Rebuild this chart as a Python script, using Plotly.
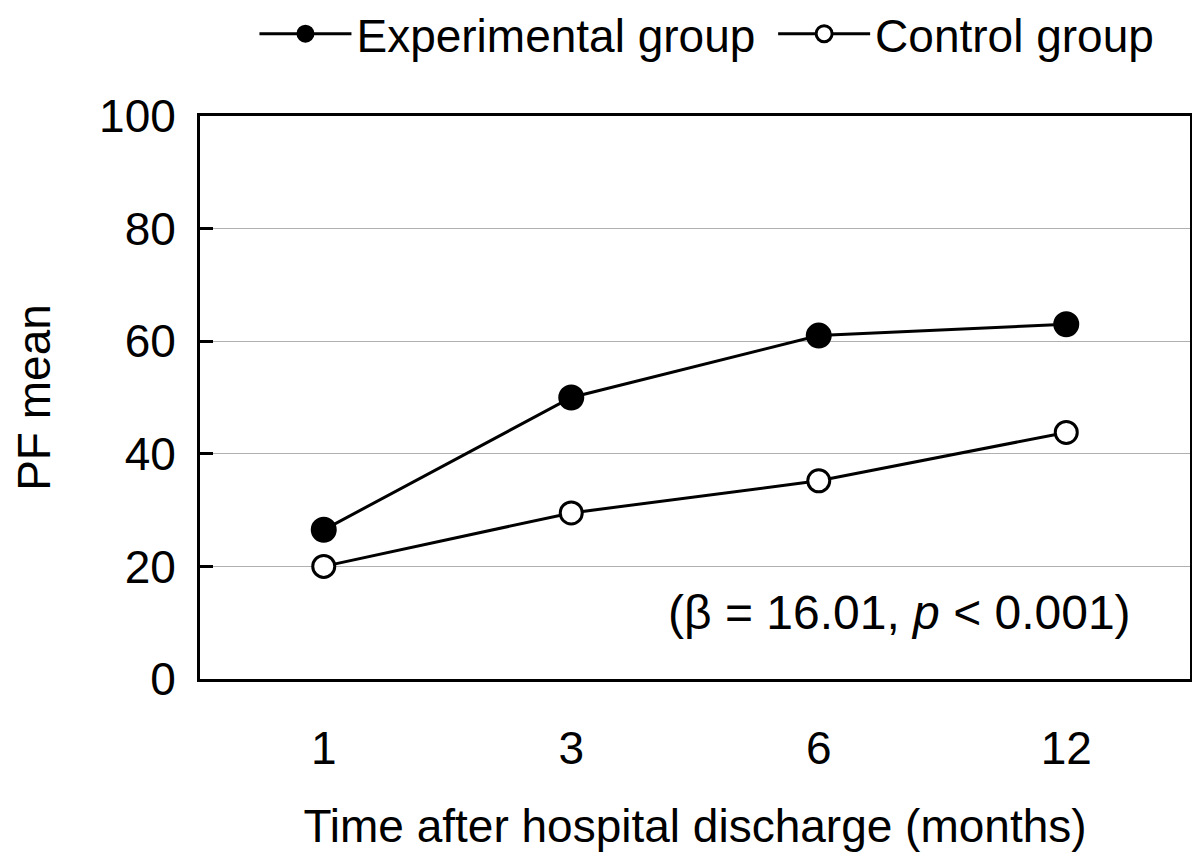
import plotly.graph_objects as go

months = ["1", "3", "6", "12"]
experimental = [26.5, 50.0, 61.0, 63.0]
control = [20.0, 29.5, 35.2, 43.8]
y_ticks = [0, 20, 40, 60, 80, 100]
series_names = ["Experimental group", "Control group"]
annotation_text = "(β = 16.01, <i>p</i> &lt; 0.001)"

FONT = "Liberation Sans, Arial, sans-serif"

fig = go.Figure()
fig.add_trace(go.Scatter(
    x=months, y=experimental, mode="lines+markers",
    name=series_names[0] + "\u00a0",
    line=dict(color="black", width=3),
    marker=dict(symbol="circle", size=24, color="black", line=dict(color="black", width=2)),
))
fig.add_trace(go.Scatter(
    x=months, y=control, mode="lines+markers", name=series_names[1],
    line=dict(color="black", width=3),
    marker=dict(symbol="circle", size=22, color="white", line=dict(color="black", width=3)),
))

# page body has an 8px default margin, so the figure is sized/offset to compensate
fig.update_layout(
    width=1192, height=846,
    margin=dict(l=192, r=10, t=108, b=175, autoexpand=False),
    paper_bgcolor="white", plot_bgcolor="white",
    font=dict(family=FONT, size=46, color="black"),
    showlegend=True,
    legend=dict(orientation="h", x=0.055, xanchor="left", y=1.146, yanchor="middle",
                font=dict(size=46), itemwidth=92, borderwidth=0,
                bgcolor="rgba(0,0,0,0)", traceorder="normal"),
    xaxis=dict(type="category", range=[-0.5, 3.5], showline=True, linecolor="black",
               linewidth=3, mirror=True, ticks="", showgrid=False,
               tickfont=dict(size=46), ticklabelstandoff=27,
               title=dict(text="Time after hospital discharge (months)", font=dict(size=46),
                          standoff=37)),
    yaxis=dict(range=[0, 100], tickvals=y_ticks, showline=True, linecolor="black",
               linewidth=3, mirror=True, ticks="inside", ticklen=13, tickwidth=3,
               tickcolor="black", showgrid=True, gridcolor="#b0b0b0", gridwidth=1.2,
               zeroline=False, tickfont=dict(size=46), ticklabelstandoff=12,
               title=dict(text="PF mean", font=dict(size=46), standoff=36)),
    annotations=[dict(text=annotation_text, x=0.942, y=0.119, xref="paper", yref="paper",
                      xanchor="right", yanchor="middle", showarrow=False,
                      font=dict(size=48))],
)

fig.write_html("out.html")
